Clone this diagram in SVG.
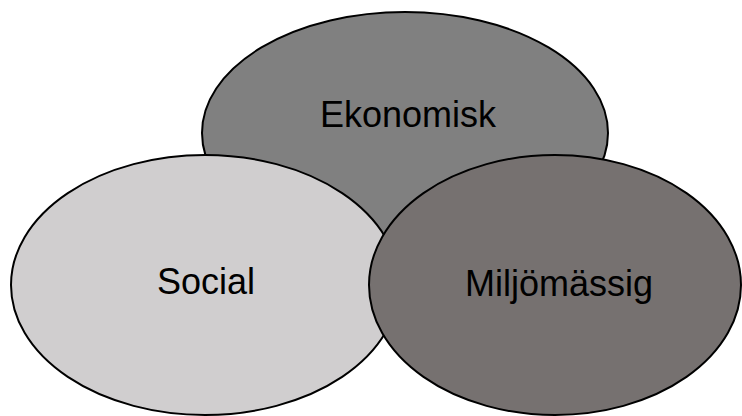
<svg xmlns="http://www.w3.org/2000/svg" width="742" height="416" viewBox="0 0 742 416">
<style>
.e{stroke:#000;stroke-width:2}
.t{font-family:"Liberation Sans",Arial,sans-serif;font-size:36px;fill:#000;text-anchor:middle}
</style>
<rect width="742" height="416" fill="#fff"/>
<g id="ekonomisk">
<ellipse class="e" cx="405" cy="133" rx="203" ry="121" fill="#808080"/>
<text class="t" x="408" y="127">Ekonomisk</text>
</g>
<g id="social">
<ellipse class="e" cx="205" cy="285" rx="194" ry="130" fill="#d0cecf"/>
<text class="t" x="206" y="294">Social</text>
</g>
<g id="miljomassig">
<ellipse class="e" cx="555" cy="285" rx="186" ry="130" fill="#767170"/>
<text class="t" x="559" y="296">Miljömässig</text>
</g>
<g id="connectors"/>
</svg>
